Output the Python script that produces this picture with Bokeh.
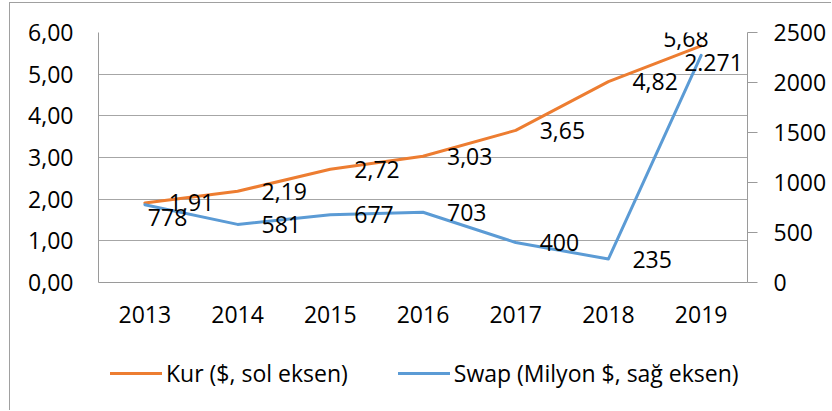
from bokeh.plotting import figure
from bokeh.layouts import column
from bokeh.models import (FactorRange, Range1d, LinearAxis, FixedTicker, ColumnDataSource,
                          Legend, LegendItem, InlineStyleSheet)
from bokeh.core.properties import value
from bokeh.embed import file_html
from bokeh.resources import INLINE

# ---- data ----
years = ["2013", "2014", "2015", "2016", "2017", "2018", "2019"]
kur = [1.91, 2.19, 2.72, 3.03, 3.65, 4.82, 5.68]
swap = [778, 581, 677, 703, 400, 235, 2271]
kur_labels = ["1,91", "2,19", "2,72", "3,03", "3,65", "4,82", "5,68"]
swap_labels = ["778", "581", "677", "703", "400", "235", "2.271"]
left_ticks = [0, 1, 2, 3, 4, 5, 6]
left_tick_labels = ["0,00", "1,00", "2,00", "3,00", "4,00", "5,00", "6,00"]
right_ticks = [0, 500, 1000, 1500, 2000, 2500]
series_names = ["Kur ($, sol eksen)", "Swap (Milyon $, sağ eksen)"]

# ---- label offsets (styling, screen px) ----
kur_dx = [24, 24, 24, 24, 24, 24, -38]
kur_dy = [0, 0, 0, 0, 0, 0, -7]
swap_dx = [3, 24, 24, 24, 24, 24, -17]
swap_dy = [13, 0, 0, 0, 0, 0, 7]

FONT = "Open Sans"
FS = "23px"
ORANGE = "#ED7D31"
BLUE = "#5B9BD5"
GRID = "#A6A6A6"
AXIS = "#9A9A9A"

p = figure(x_range=FactorRange(*years), y_range=Range1d(0, 6),
           width=832, height=340, output_backend="svg", toolbar_location=None,
           min_border_left=98, min_border_right=85, min_border_top=32, min_border_bottom=58)
p.extra_y_ranges = {"swap": Range1d(0, 2500)}
p.outline_line_color = None
p.background_fill_color = "white"
p.border_fill_color = None

# left axis
ya = p.yaxis[0]
ya.ticker = FixedTicker(ticks=left_ticks)
ya.major_label_overrides = dict(zip(left_ticks, left_tick_labels))
ya.major_tick_out = 0
ya.major_tick_in = 0
ya.minor_tick_out = 0
ya.minor_tick_in = 0
ya.axis_line_color = AXIS
ya.major_label_standoff = 25
ya.major_label_text_font = FONT
ya.major_label_text_font_size = FS
ya.major_label_text_color = "black"

# right axis
ra = LinearAxis(y_range_name="swap", ticker=FixedTicker(ticks=right_ticks))
ra.major_tick_out = 10
ra.major_tick_in = 0
ra.minor_tick_out = 0
ra.minor_tick_in = 0
ra.major_tick_line_color = AXIS
ra.axis_line_color = AXIS
ra.major_label_standoff = 16
ra.major_label_text_font = FONT
ra.major_label_text_font_size = FS
ra.major_label_text_color = "black"
p.add_layout(ra, "right")

# bottom axis
xa = p.xaxis[0]
xa.major_tick_out = 0
xa.major_tick_in = 0
xa.axis_line_color = AXIS
xa.major_label_standoff = 23
xa.major_label_text_font = FONT
xa.major_label_text_font_size = FS
xa.major_label_text_color = "black"

p.xgrid.grid_line_color = None
p.ygrid.ticker = FixedTicker(ticks=left_ticks)
p.ygrid.grid_line_color = GRID
p.ygrid.grid_line_width = 1

kur_src = ColumnDataSource(dict(x=years, y=kur, t=kur_labels, dx=kur_dx, dy=kur_dy))
swap_src = ColumnDataSource(dict(x=years, y=swap, t=swap_labels, dx=swap_dx, dy=swap_dy))

line_style = dict(line_width=3, line_join="round", line_cap="round")
p.line("x", "y", source=kur_src, line_color=ORANGE, **line_style)
p.line("x", "y", source=swap_src, line_color=BLUE, y_range_name="swap", **line_style)

p.text("x", "y", text="t", x_offset="dx", y_offset="dy", source=kur_src,
       text_font=value(FONT), text_font_size=FS, text_color="black",
       text_align="left", text_baseline="middle")
p.text("x", "y", text="t", x_offset="dx", y_offset="dy", source=swap_src,
       text_font=value(FONT), text_font_size=FS, text_color="black",
       text_align="left", text_baseline="middle", y_range_name="swap")

# ---- legend strip (its lines use the same series, outside its visible range) ----
lg = figure(width=832, height=71, output_backend="svg", toolbar_location=None,
            x_range=FactorRange(*years), y_range=Range1d(-20, -10),
            min_border=0, min_border_left=0, min_border_right=0,
            min_border_top=0, min_border_bottom=0)
lg.axis.visible = False
lg.grid.visible = False
lg.outline_line_color = None
lg.border_fill_color = None
lg.background_fill_color = None
lk = lg.line("x", "y", source=kur_src, line_color=ORANGE, **line_style)
ls = lg.line("x", "y", source=swap_src, line_color=BLUE, **line_style)

legend = Legend(items=[LegendItem(label=series_names[0], renderers=[lk]),
                       LegendItem(label=series_names[1], renderers=[ls])],
                orientation="horizontal", location=(12, 22), margin=0, padding=0,
                spacing=50, label_standoff=4, glyph_width=52,
                label_text_font=FONT, label_text_font_size=FS, label_text_color="black",
                border_line_color=None, background_fill_alpha=0)
lg.add_layout(legend, "center")

# thin chart-area border (left and top edges), drawn by CSS over the layout
frame_css = InlineStyleSheet(css="""
:host::before {
  content: ""; position: absolute; left: 9px; top: 2px; width: 822px; height: 408px;
  box-sizing: border-box; border-left: 1px solid #A0A0A0; border-top: 1px solid #A0A0A0;
  pointer-events: none; z-index: 10;
}
""")

layout = column(p, lg, spacing=0, stylesheets=[frame_css])
open("out.html", "w").write(file_html(layout, INLINE))
